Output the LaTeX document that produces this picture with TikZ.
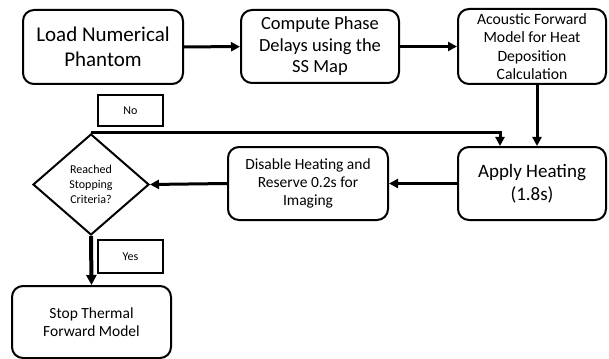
\documentclass[tikz,border=0pt]{standalone}
\usepackage{fontspec}
\setmainfont{Carlito}
\usetikzlibrary{shapes.geometric,arrows.meta,calc}
\begin{document}
\begin{tikzpicture}[x=1pt,y=-1pt,
  box/.style={draw=black,line width=2pt,rounded corners=11pt,align=center,inner sep=0pt},
  lbl/.style={draw=black,line width=2pt,align=center,inner sep=0pt,minimum width=65pt,font=\fontsize{12}{14}\selectfont},
  arr/.style={line width=3pt,-{Triangle[length=9pt,width=9pt]}},
  ln/.style={line width=3pt}]
\useasboundingbox (0,0) rectangle (609,358);
\node[box,minimum width=160pt,minimum height=74pt,font=\fontsize{21}{25}\selectfont] (b1) at (103,47) {Load Numerical\\Phantom};
\node[box,minimum width=158pt,minimum height=73pt,font=\fontsize{18.5}{21.5}\selectfont] (b2) at (320,46.5) {Compute Phase\\Delays using the\\SS Map};
\node[box,minimum width=148pt,minimum height=75pt,font=\fontsize{15.7}{18.3}\selectfont] (b3) at (532,46.5) {Acoustic Forward\\Model for Heat\\Deposition\\Calculation};
\node[lbl,minimum height=31pt] (no) at (130.5,110.5) {No};
\node[box,minimum width=148pt,minimum height=73pt,font=\fontsize{19}{23}\selectfont] (ap) at (532,183.5) {Apply Heating\\(1.8s)};
\node[box,minimum width=160pt,minimum height=73pt,font=\fontsize{15.5}{18.3}\selectfont] (dis) at (308,183.5) {Disable Heating and\\Reserve 0.2s for\\Imaging};
\node[diamond,draw=black,line width=2pt,minimum width=116pt,minimum height=101pt,inner sep=0pt,align=center,font=\fontsize{12}{15}\selectfont] (dia) at (91,184.5) {Reached\\Stopping\\Criteria?};
\node[lbl,minimum height=33pt] (yes) at (130.5,256.5) {Yes};
\node[box,minimum width=159pt,minimum height=72pt,font=\fontsize{15.5}{18.3}\selectfont] (st) at (91.5,322) {Stop Thermal\\Forward Model};
\coordinate (loopin) at ([xshift=-32pt]ap.north);
\draw[arr] (b1) -- (b2);
\draw[arr] (b2) -- (b3);
\draw[arr] ([xshift=5pt]b3.south) -- ([xshift=5pt]ap.north);
\draw[arr] (ap.west |- dis.east) -- (dis.east);
\draw[arr] (dis.west) -- (dia.east);
\draw[arr] (dia.north) -- (dia.north -| loopin) -- (loopin);
\draw[line width=4pt,-{Triangle[length=10pt,width=10pt]}] (dia.south) -- (st.north);
\end{tikzpicture}
\end{document}
